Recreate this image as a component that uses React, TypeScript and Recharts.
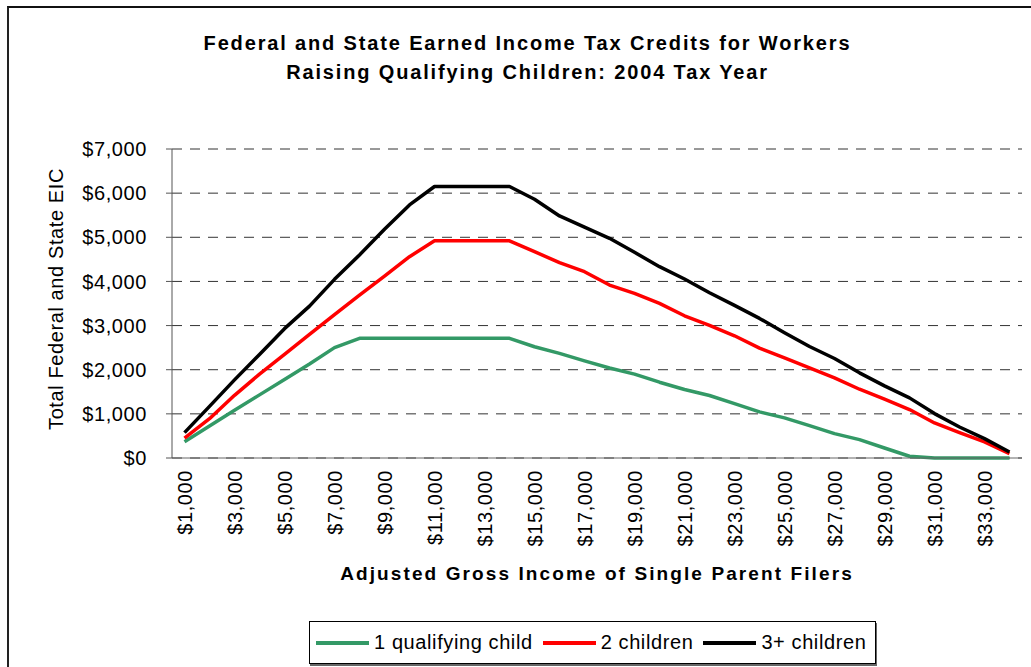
import { LineChart, Line, XAxis, YAxis, CartesianGrid } from 'recharts';

const incomes = [
  1000, 2000, 3000, 4000, 5000, 6000, 7000, 8000, 9000, 10000, 11000, 12000,
  13000, 14000, 15000, 16000, 17000, 18000, 19000, 20000, 21000, 22000, 23000,
  24000, 25000, 26000, 27000, 28000, 29000, 30000, 31000, 32000, 33000, 34000,
];

const oneChild = [
  370, 725, 1080, 1430, 1780, 2130, 2500, 2710, 2710, 2710, 2710, 2710, 2710,
  2710, 2520, 2370, 2200, 2040, 1900, 1717, 1551, 1415, 1233, 1044, 908, 734,
  552, 416, 227, 40, 0, 0, 0, 0,
];

const twoChildren = [
  450, 890, 1420, 1900, 2345, 2800, 3250, 3690, 4120, 4560, 4920, 4920, 4920,
  4920, 4675, 4425, 4221, 3918, 3729, 3502, 3222, 3003, 2769, 2489, 2269, 2042,
  1815, 1558, 1331, 1097, 794, 575, 363, 98,
];

const threeChildren = [
  575, 1170, 1770, 2345, 2930, 3440, 4047, 4600, 5180, 5734, 6150, 6150, 6150,
  6150, 5862, 5484, 5230, 4977, 4660, 4334, 4054, 3744, 3457, 3162, 2837, 2526,
  2254, 1929, 1634, 1362, 1006, 703, 439, 136,
];

const xTickLabels = [
  1000, 3000, 5000, 7000, 9000, 11000, 13000, 15000, 17000, 19000, 21000,
  23000, 25000, 27000, 29000, 31000, 33000,
];

const yTicks = [0, 1000, 2000, 3000, 4000, 5000, 6000, 7000];

const series = [
  { key: 'one', name: '1 qualifying child', color: '#339966' },
  { key: 'two', name: '2 children', color: '#ff0000' },
  { key: 'three', name: '3+ children', color: '#000000' },
];

const data = incomes.map((income, i) => ({
  income,
  one: oneChild[i],
  two: twoChildren[i],
  three: threeChildren[i],
}));

// category boundaries, where Excel puts the tick marks
const step = incomes[1] - incomes[0];
const boundaries = [...incomes.map((v) => v - step / 2), incomes[incomes.length - 1] + step / 2];

const FONT = '"Liberation Sans", Arial, sans-serif';
const money = (v: number) => '$' + v.toLocaleString('en-US');

function RotatedTick({ x, y, payload }: any) {
  return (
    <text
      x={x}
      y={y}
      dy="0.35em"
      transform={`rotate(-90 ${x} ${y})`}
      textAnchor="end"
      fontFamily={FONT}
      fontSize={20}
      letterSpacing={0.6}
      fill="#000"
    >
      {money(payload.value)}
    </text>
  );
}

export default function App() {
  return (
    <div
      style={{
        position: 'absolute',
        left: 0,
        top: 0,
        width: 1031,
        height: 667,
        overflow: 'hidden',
        background: '#fff',
        fontFamily: FONT,
      }}
    >
      <div
        style={{
          position: 'absolute',
          left: 7,
          top: 6,
          width: 1100,
          height: 700,
          borderTop: '2px solid #111',
          borderLeft: '2px solid #222',
        }}
      />
      <div
        style={{
          position: 'absolute',
          left: 0,
          width: 1055,
          top: 29,
          textAlign: 'center',
          fontWeight: 'bold',
          fontSize: 20,
          letterSpacing: 1.85,
          lineHeight: '29px',
        }}
      >
        Federal and State Earned Income Tax Credits for Workers
        <br />
        Raising Qualifying Children: 2004 Tax Year
      </div>

      <div style={{ position: 'absolute', left: 0, top: 0 }}>
        <LineChart
          width={1031}
          height={667}
          data={data}
          margin={{ top: 149, right: 9, bottom: 93, left: 112 }}
        >
          <CartesianGrid vertical={false} stroke="#333" strokeDasharray="10 8" />
          <XAxis
            dataKey="income"
            type="number"
            domain={[boundaries[0], boundaries[boundaries.length - 1]]}
            ticks={boundaries}
            tick={false}
            height={6}
            stroke="#666"
            tickSize={6}
          />
          <XAxis
            xAxisId="labels"
            dataKey="income"
            type="number"
            domain={[boundaries[0], boundaries[boundaries.length - 1]]}
            ticks={xTickLabels}
            tick={<RotatedTick />}
            tickLine={false}
            axisLine={false}
            tickSize={0}
            tickMargin={6}
            height={110}
            interval={0}
          />
          <YAxis
            domain={[0, 7000]}
            ticks={yTicks}
            tickFormatter={money}
            width={60}
            stroke="#555"
            tickSize={6}
            tickMargin={19}
            interval={0}
            tick={{ fill: '#000', fontSize: 20, fontFamily: FONT, letterSpacing: 0.6 }}
          />
          {series.map((s) => (
            <Line
              key={s.key}
              dataKey={s.key}
              name={s.name}
              stroke={s.color}
              strokeWidth={3.5}
              strokeLinejoin="round"
              dot={false}
              activeDot={false}
              isAnimationActive={false}
            />
          ))}
        </LineChart>
      </div>

      <div
        style={{
          position: 'absolute',
          left: 56,
          top: 299,
          transform: 'translate(-50%, -50%) rotate(-90deg)',
          whiteSpace: 'nowrap',
          fontSize: 20,
          letterSpacing: 0.6,
        }}
      >
        Total Federal and State EIC
      </div>

      <div
        style={{
          position: 'absolute',
          left: 172,
          width: 850,
          top: 563,
          textAlign: 'center',
          fontWeight: 'bold',
          fontSize: 19,
          letterSpacing: 2.1,
        }}
      >
        Adjusted Gross Income of Single Parent Filers
      </div>

      <div
        style={{
          position: 'absolute',
          left: 309,
          top: 621,
          width: 567,
          height: 43,
          boxSizing: 'border-box',
          border: '1px solid #000',
          boxShadow: '1px 2px 0 #666',
          display: 'flex',
          alignItems: 'center',
          paddingLeft: 6,
          fontSize: 20,
          letterSpacing: 0.6,
          whiteSpace: 'nowrap',
        }}
      >
        {series.map((s) => (
          <div key={s.key} style={{ display: 'flex', alignItems: 'center', marginRight: 10 }}>
            <span style={{ display: 'inline-block', width: 53, height: 4, background: s.color }} />
            <span style={{ marginLeft: 5 }}>{s.name}</span>
          </div>
        ))}
      </div>
    </div>
  );
}
